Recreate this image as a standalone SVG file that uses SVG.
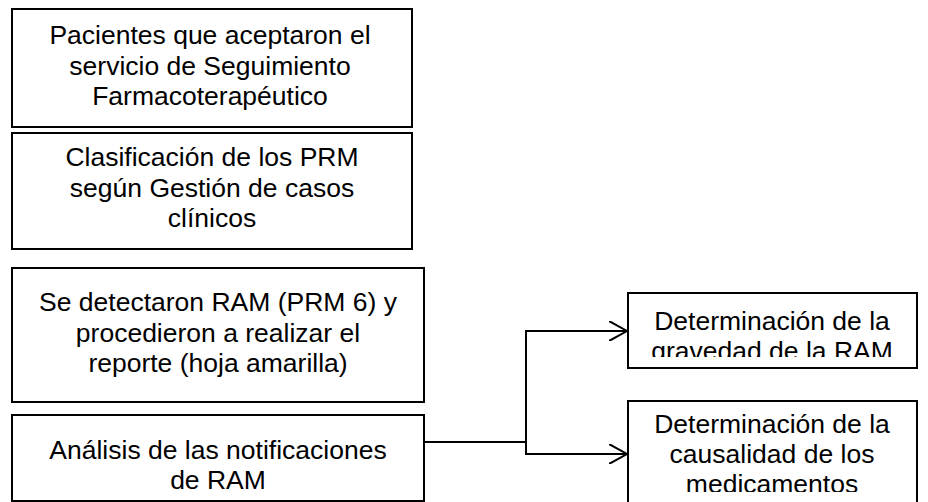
<svg xmlns="http://www.w3.org/2000/svg" width="928" height="502" viewBox="0 0 928 502">
<style>
.box{fill:#fff;stroke:#000;stroke-width:2}
.t{font-family:"Liberation Sans",Arial,sans-serif;font-size:26.5px;fill:#000;text-anchor:middle}
.c{fill:none;stroke:#000;stroke-width:2}
</style>
<defs>
<marker id="arr" markerWidth="20" markerHeight="20" refX="18" refY="10" orient="auto" markerUnits="userSpaceOnUse">
<path d="M0,0 L18,10 L0,20" fill="none" stroke="#000" stroke-width="2"/>
</marker>
<clipPath id="c5"><rect x="628" y="293" width="289" height="64"/></clipPath>
<clipPath id="c6"><rect x="628" y="401" width="289" height="91"/></clipPath>
</defs>
<g id="n1"><rect class="box" x="12" y="9" width="400" height="118"/>
<text class="t"><tspan x="210" y="43.5">Pacientes que aceptaron el</tspan><tspan x="210" y="74.5">servicio de Seguimiento</tspan><tspan x="210" y="105">Farmacoterapéutico</tspan></text></g>
<g id="n2"><rect class="box" x="12" y="133" width="400" height="116"/>
<text class="t"><tspan x="212" y="166">Clasificación de los PRM</tspan><tspan x="212" y="196.5">según Gestión de casos</tspan><tspan x="212" y="227">clínicos</tspan></text></g>
<g id="n3"><rect class="box" x="12" y="268" width="412" height="134"/>
<text class="t"><tspan x="218" y="311">Se detectaron RAM (PRM 6) y</tspan><tspan x="218" y="341.5">procedieron a realizar el</tspan><tspan x="218" y="372">reporte (hoja amarilla)</tspan></text></g>
<g id="n4"><rect class="box" x="12" y="415" width="412" height="86"/>
<text class="t"><tspan x="218" y="459">Análisis de las notificaciones</tspan><tspan x="218" y="489">de RAM</tspan></text></g>
<g id="n5"><rect class="box" x="628" y="293" width="289" height="75"/>
<text class="t" clip-path="url(#c5)"><tspan x="772" y="330">Determinación de la</tspan><tspan x="772" y="360">gravedad de la RAM</tspan></text></g>
<g id="n6"><rect class="box" x="628" y="401" width="289" height="110"/>
<text class="t" clip-path="url(#c6)"><tspan x="772" y="433">Determinación de la</tspan><tspan x="772" y="463">causalidad de los</tspan><tspan x="772" y="493">medicamentos</tspan></text></g>
<g id="connectors">
<path class="c" d="M424,442 H526"/>
<path class="c" d="M526,442 V331 H627" marker-end="url(#arr)"/>
<path class="c" d="M526,442 V454 H627" marker-end="url(#arr)"/>
</g>
</svg>
